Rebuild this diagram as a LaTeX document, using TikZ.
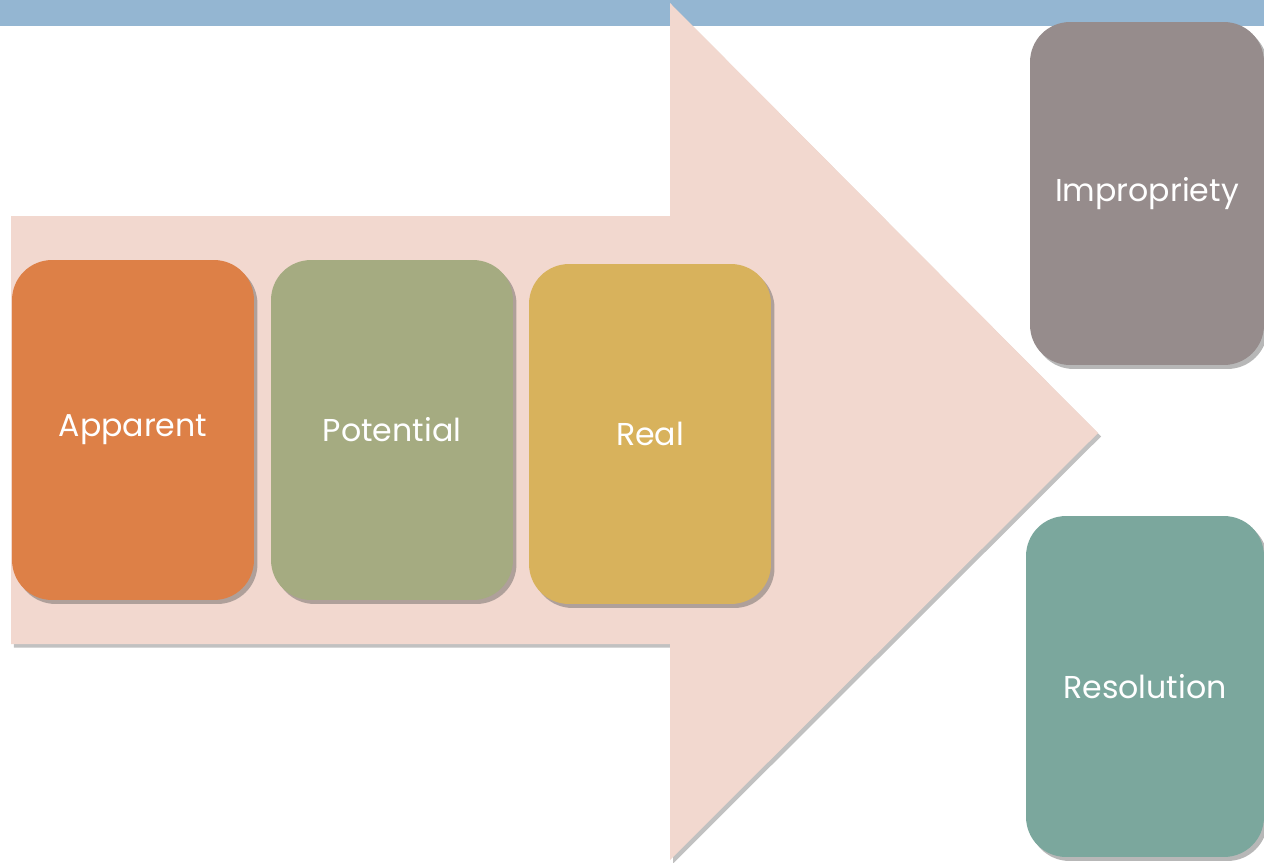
\documentclass[tikz,border=0pt]{standalone}
\usepackage{fontspec}
\setmainfont{Poppins}
\usepackage{tikz}
\usetikzlibrary{shadows}
\definecolor{barblue}{HTML}{94B6D2}
\definecolor{arrowpink}{HTML}{F2D8CF}
\definecolor{cOrange}{HTML}{DD8047}
\definecolor{cOlive}{HTML}{A5AB81}
\definecolor{cGold}{HTML}{D8B25C}
\definecolor{cGrey}{HTML}{968C8C}
\definecolor{cTeal}{HTML}{7BA79D}
\tikzstyle{stage}=[rounded corners=0.8cm, minimum width=4.84cm, minimum height=6.8cm,
  text=white, font=\fontsize{18}{21}\selectfont, inner sep=0pt,
  drop shadow={shadow xshift=0.07cm, shadow yshift=-0.08cm, opacity=0.4, fill=black!70}]
\begin{document}
\begin{tikzpicture}[x=0.02cm,y=-0.02cm]
\useasboundingbox (0,0) rectangle (1264,862);
\fill[barblue] (0,0) rectangle (1264,26);
% big arrow
\coordinate (sTL) at (11,216);
\coordinate (sBL) at (11,644);
\coordinate (hTop) at (670,3);
\coordinate (hBot) at (670,860);
\coordinate (tip) at (1098,433);
\fill[arrowpink, drop shadow={shadow xshift=0.06cm, shadow yshift=-0.07cm, opacity=0.35, fill=black!70}]
  (sTL) -- (670,216) -- (hTop) -- (tip) -- (hBot) -- (670,644) -- (sBL) -- cycle;
% stages
\foreach \name/\col/\x/\y/\lbl in {app/cOrange/133/430/Apparent, pot/cOlive/392/430/Potential, real/cGold/650/434/Real} {
	\node[stage, fill=\col] (\name) at (\x,\y) {\lbl};
}
\node[stage, fill=cGrey, minimum width=4.68cm, minimum height=6.86cm] (imp) at (1147,193.5) {Impropriety};
\node[stage, fill=cTeal, minimum width=4.76cm, minimum height=6.82cm] (res) at (1145,686.5) {Resolution};
\end{tikzpicture}
\end{document}
